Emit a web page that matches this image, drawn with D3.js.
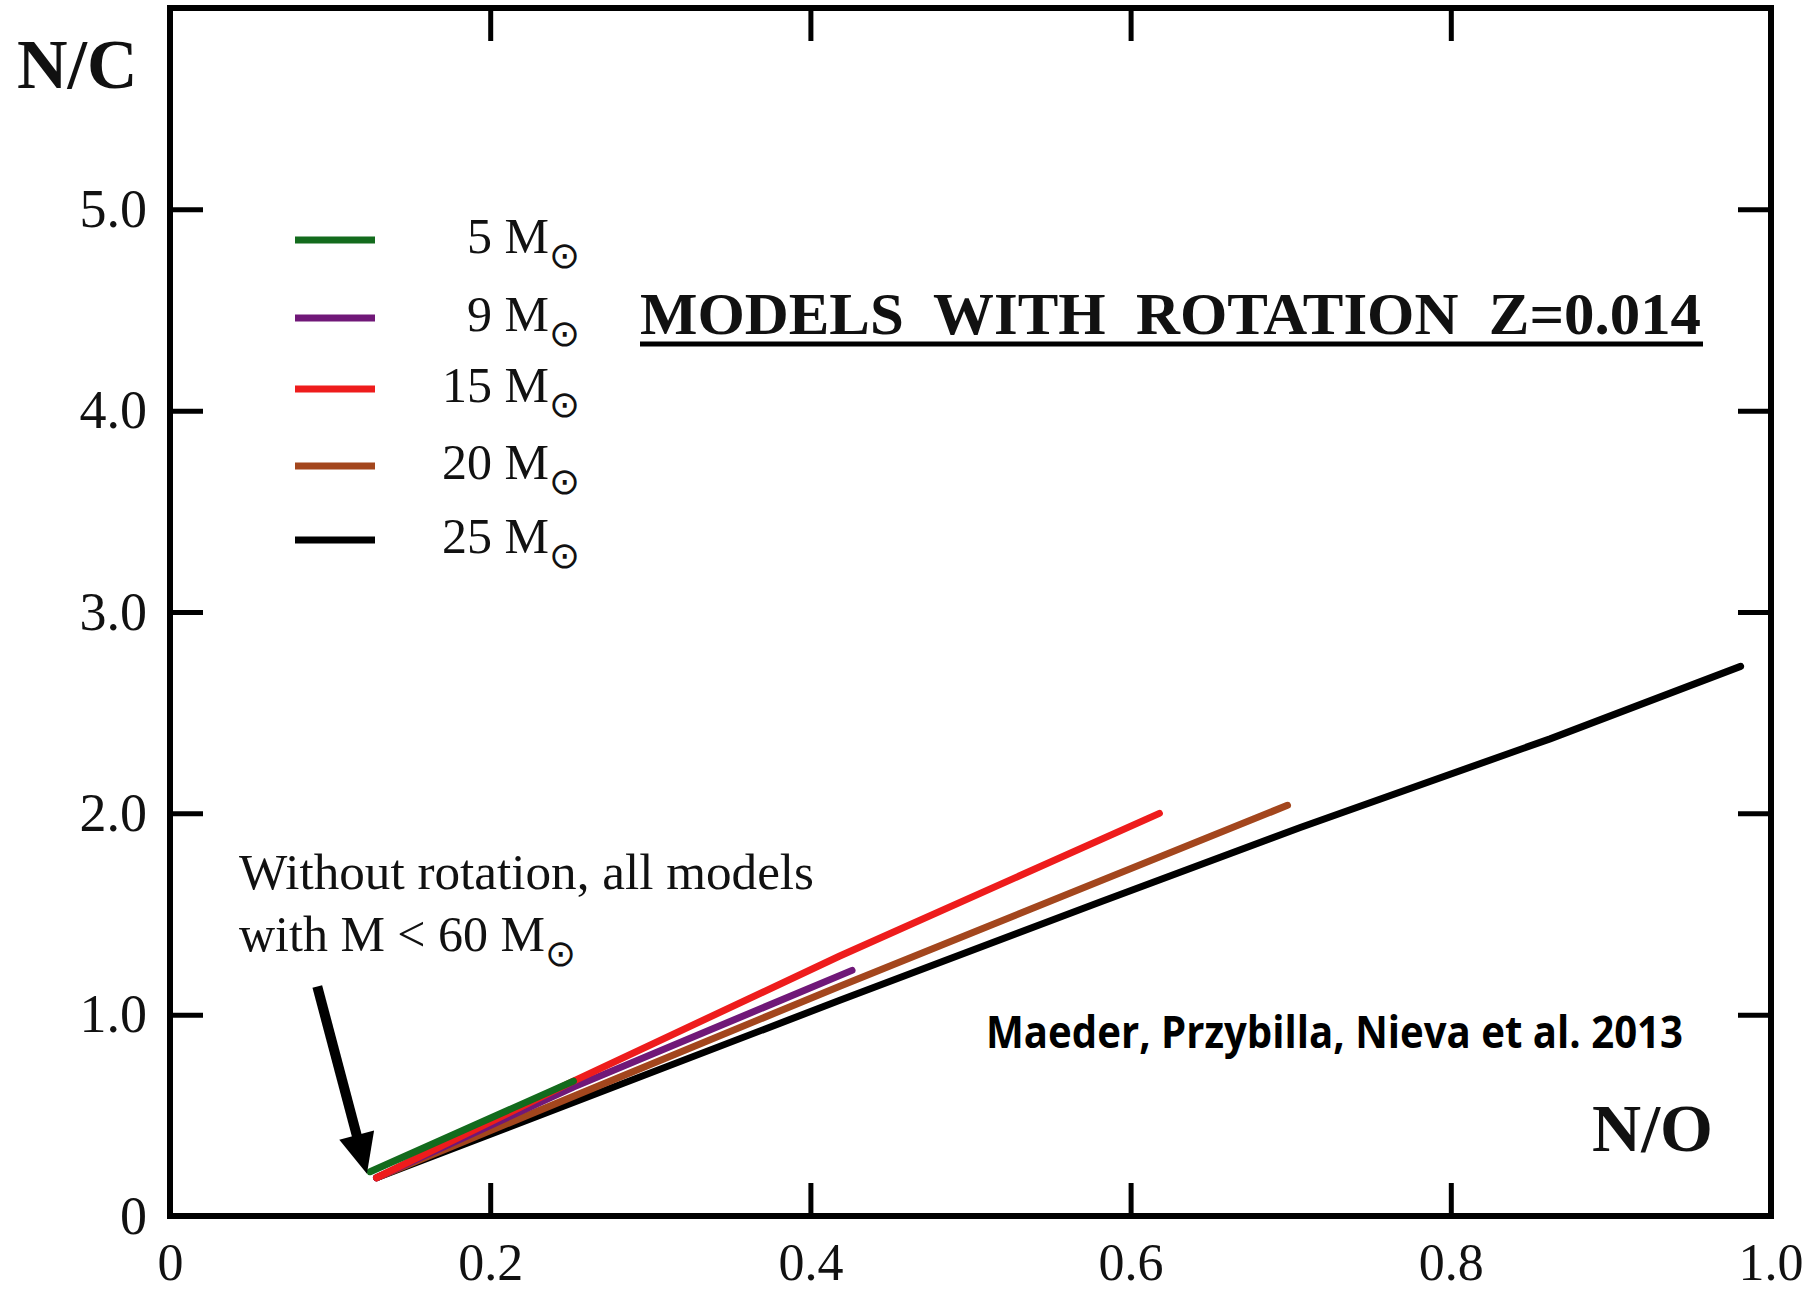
<!DOCTYPE html>
<html>
<head>
<meta charset="utf-8">
<script src="https://cdn.jsdelivr.net/npm/d3@7"></script>
<style>
  body { margin: 0; background: #fff; }
  svg { display: block; }
  .serif { font-family: "Liberation Serif", "Times New Roman", serif; fill: #111; }
</style>
</head>
<body>
<svg id="chart" width="1805" height="1294"></svg>
<script>
// N/O on x, N/C on y, one track per initial mass (rotating models, Z=0.014)
const masses = ['5', '9', '15', '20', '25'];
const colors = ['#136b1d', '#701878', '#ee1c1c', '#a3461d', '#000000'];

const no5 = [0.125, 0.252];
const nc5 = [0.22, 0.67];
const no9 = [0.129, 0.252, 0.426];
const nc9 = [0.19, 0.64, 1.22];
const no15 = [0.129, 0.252, 0.418, 0.618];
const nc15 = [0.19, 0.67, 1.29, 2.00];
const no20 = [0.129, 0.418, 0.698];
const nc20 = [0.19, 1.14, 2.04];
const no25 = [0.129, 0.418, 0.581, 0.706, 0.862, 0.981];
const nc25 = [0.19, 1.07, 1.56, 1.93, 2.37, 2.73];

const xTicks = [0, 0.2, 0.4, 0.6, 0.8, 1.0];
const xTickLabels = ['0', '0.2', '0.4', '0.6', '0.8', '1.0'];
const yTicks = [0, 1, 2, 3, 4, 5];
const yTickLabels = ['0', '1.0', '2.0', '3.0', '4.0', '5.0'];

const seriesNO = [no5, no9, no15, no20, no25];
const seriesNC = [nc5, nc9, nc15, nc20, nc25];

function renderChart() {
  const svg = d3.select('#chart');
  const left = 170, right = 1771, top = 8, bottom = 1216;

  const x = d3.scaleLinear().domain([0, 1]).range([left, right]);
  const y = d3.scaleLinear().domain([0, 6]).range([bottom, top]);

  const line = d3.line()
    .x(d => x(d[0]))
    .y(d => y(d[1]));

  // draw order: black under, green on top
  const order = [4, 3, 1, 2, 0];
  order.forEach(i => {
    const pts = seriesNO[i].map((v, j) => [v, seriesNC[i][j]]);
    svg.append('path')
      .datum(pts)
      .attr('d', line)
      .attr('fill', 'none')
      .attr('stroke', colors[i])
      .attr('stroke-width', 7)
      .attr('stroke-linecap', 'round');
  });

  // axes, ticks pointing inward
  const xb = svg.append('g')
    .attr('transform', `translate(0,${bottom})`)
    .call(d3.axisBottom(x).tickValues(xTicks).tickSize(-33).tickPadding(27)
      .tickFormat((d, i) => xTickLabels[i]));
  const yl = svg.append('g')
    .attr('transform', `translate(${left},0)`)
    .call(d3.axisLeft(y).tickValues(yTicks).tickSize(-33).tickPadding(23)
      .tickFormat((d, i) => yTickLabels[i]));
  const yr = svg.append('g')
    .attr('transform', `translate(${right},0)`)
    .call(d3.axisRight(y).tickValues(yTicks.slice(1)).tickSize(-33).tickFormat(''));
  const xt = svg.append('g')
    .attr('transform', `translate(0,${top})`)
    .call(d3.axisTop(x).tickValues(xTicks.slice(1, 5)).tickSize(-33).tickFormat(''));

  [xb, yl, yr, xt].forEach(g => {
    g.select('.domain').remove();
    g.selectAll('.tick line').attr('stroke', '#000').attr('stroke-width', 5);
    g.selectAll('.tick text')
      .attr('class', 'serif')
      .style('font-size', '54px')
      .attr('fill', '#1a1a1a');
  });
  xb.selectAll('.tick text').style('font-size', '52px');
  // keep the last label inside the page
  xb.selectAll('.tick text').filter((d, i) => i === xTicks.length - 1)
    .attr('text-anchor', 'end').attr('x', 32);

  svg.append('rect')
    .attr('x', left).attr('y', top)
    .attr('width', right - left).attr('height', bottom - top)
    .attr('fill', 'none')
    .attr('stroke', '#000')
    .attr('stroke-width', 6);

  // axis titles
  svg.append('text').attr('class', 'serif')
    .attr('x', 17).attr('y', 88)
    .style('font-size', '70px').style('font-weight', 'bold')
    .text('N/C');
  svg.append('text').attr('class', 'serif')
    .attr('x', 1713).attr('y', 1151)
    .attr('text-anchor', 'end')
    .style('font-size', '68px').style('font-weight', 'bold')
    .text('N/O');

  // legend
  const legendY = [240, 318, 389, 466, 540];
  masses.forEach((m, i) => {
    svg.append('line')
      .attr('x1', 295).attr('x2', 375)
      .attr('y1', legendY[i]).attr('y2', legendY[i])
      .attr('stroke', colors[i]).attr('stroke-width', 7);
    const t = svg.append('text').attr('class', 'serif')
      .attr('x', 580).attr('y', legendY[i] + 13)
      .attr('text-anchor', 'end')
      .style('font-size', '50px');
    t.append('tspan').text(m + ' M');
    t.append('tspan')
      .attr('dy', 15)
      .style('font-family', '"DejaVu Sans", sans-serif')
      .style('font-size', '37px')
      .text('\u2299');
  });

  // title
  svg.append('text').attr('class', 'serif')
    .attr('x', 640).attr('y', 334)
    .style('font-size', '60px').style('font-weight', 'bold')
    .style('white-space', 'pre')
    .attr('textLength', 1061).attr('lengthAdjust', 'spacingAndGlyphs')
    .text('MODELS  WITH  ROTATION  Z=0.014');
  svg.append('line')
    .attr('x1', 640).attr('x2', 1703)
    .attr('y1', 344).attr('y2', 344)
    .attr('stroke', '#000').attr('stroke-width', 5);

  // note about non-rotating models
  svg.append('text').attr('class', 'serif')
    .attr('x', 239).attr('y', 889)
    .style('font-size', '50px')
    .attr('textLength', 575).attr('lengthAdjust', 'spacingAndGlyphs')
    .text('Without rotation, all models');
  const t2 = svg.append('text').attr('class', 'serif')
    .attr('x', 239).attr('y', 951)
    .style('font-size', '50px');
  t2.append('tspan').text('with M < 60 M');
  t2.append('tspan')
    .attr('dy', 15)
    .style('font-family', '"DejaVu Sans", sans-serif')
    .style('font-size', '37px')
    .text('\u2299');

  // arrow
  const tail = [x(0.092), y(1.14)];
  const tip = [x(0.123), y(0.21)];
  const dx = tip[0] - tail[0], dy = tip[1] - tail[1];
  const len = Math.hypot(dx, dy);
  const ux = dx / len, uy = dy / len;
  const headLen = 40, headW = 18;
  const base = [tip[0] - ux * headLen, tip[1] - uy * headLen];
  svg.append('line')
    .attr('x1', tail[0]).attr('y1', tail[1])
    .attr('x2', base[0] + ux * 4).attr('y2', base[1] + uy * 4)
    .attr('stroke', '#000').attr('stroke-width', 10);
  svg.append('path')
    .attr('d', `M${tip[0]},${tip[1]} L${base[0] - uy * headW},${base[1] + ux * headW} L${base[0] + uy * headW},${base[1] - ux * headW} Z`)
    .attr('fill', '#000');

  // citation
  svg.append('text')
    .attr('x', 986).attr('y', 1048)
    .style('font-family', '"Open Sans", sans-serif')
    .style('font-weight', 'bold')
    .style('font-size', '44px')
    .attr('textLength', 697).attr('lengthAdjust', 'spacingAndGlyphs')
    .text('Maeder, Przybilla, Nieva et al. 2013');
}

renderChart();
</script>
</body>
</html>
